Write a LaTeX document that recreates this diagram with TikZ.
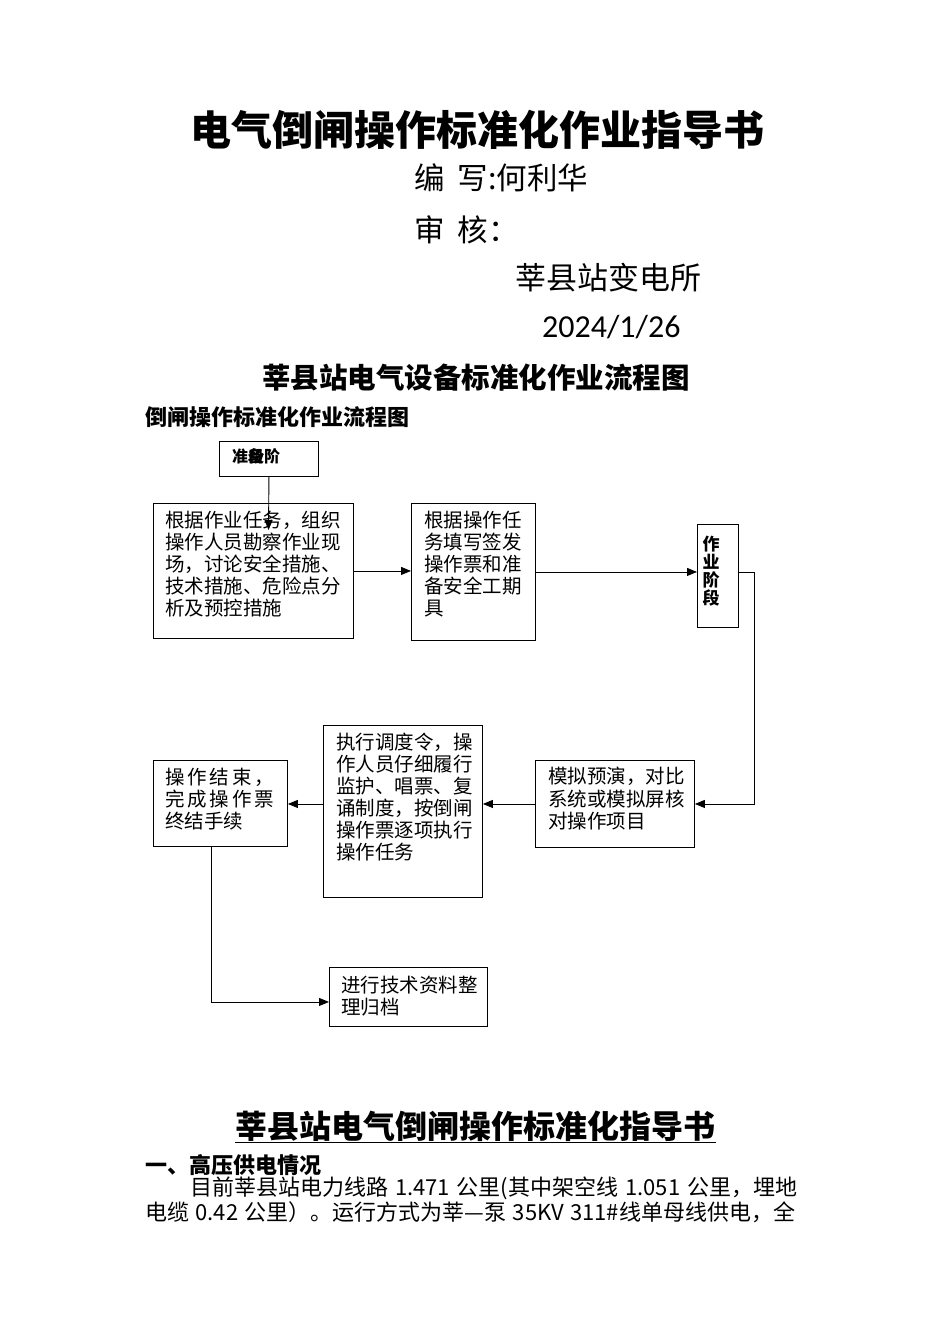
\documentclass[tikz,border=0pt]{standalone}
\usepackage{fontspec}
\setmainfont{Noto Sans CJK SC}
\newfontfamily\latinf{Carlito}
\usetikzlibrary{arrows.meta}
\begin{document}
\begin{tikzpicture}[x=1pt,y=1pt,
  box/.style={draw=black, line width=0.9pt, inner sep=0pt, anchor=north west},
  txt/.style={inner sep=0pt, anchor=north west, align=left, font=\fontsize{19.5}{22}\selectfont},
  head/.style={inner sep=0pt},
  conn/.style={draw=black, line width=0.9pt},
  arr/.style={conn, -{Triangle[length=10pt,width=8pt]}}]
\useasboundingbox[fill=white] (0,0) rectangle (950,-1344);

% ---- top texts
\node[head, font=\fontsize{41}{41}\selectfont\bfseries] (title) at (477,-130) {电气倒闸操作标准化作业指导书};
\node[head, anchor=west, font=\fontsize{30.5}{30.5}\selectfont] (author) at (414,-178) {编\hspace{13pt}写:何利华};
\node[head, anchor=west, font=\fontsize{30.5}{30.5}\selectfont] (review) at (414,-230) {审\hspace{13pt}核：};
\node[head, anchor=west, font=\fontsize{31}{31}\selectfont] (station) at (515,-278) {莘县站变电所};
\node[head, anchor=west, font=\fontsize{32}{32}\latinf] (date) at (542,-327) {2024/1/26};
\node[head, font=\fontsize{28.5}{28.5}\selectfont\bfseries] (fchead) at (476,-378) {莘县站电气设备标准化作业流程图};
\node[head, anchor=west, font=\fontsize{22}{22}\selectfont\bfseries] (fcsub) at (145,-417) {倒闸操作标准化作业流程图};

% ---- flowchart boxes
\node[box, minimum width=99pt, minimum height=35pt] (prep) at (219,-441) {};
\node[head, font=\fontsize{16}{16}\selectfont\bfseries] (preptxt) at (256,-456) {准\makebox[0pt][l]{备}段阶};

\node[box, minimum width=200pt, minimum height=135pt] (a) at (153,-503) {};
\node[txt] (atxt) at (165,-511) {根据作业任务，组织\\操作人员勘察作业现\\场，讨论安全措施、\\技术措施、危险点分\\析及预控措施};

\node[box, minimum width=124pt, minimum height=137pt] (b) at (411,-503) {};
\node[txt] (btxt) at (424,-511) {根据操作任\\务填写签发\\操作票和准\\备安全工期\\具};

\node[box, minimum width=41pt, minimum height=103pt] (work) at (697,-524) {};
\node[inner sep=0pt, anchor=north, align=center, font=\fontsize{17}{18}\selectfont\bfseries] (worktxt) at (711,-536) {作\\业\\阶\\段};

\node[box, minimum width=159pt, minimum height=87pt] (sim) at (535,-760) {};
\node[txt, font=\fontsize{19.5}{22.5}\selectfont] (simtxt) at (548,-767) {模拟预演，对比\\系统或模拟屏核\\对操作项目};

\node[box, minimum width=159pt, minimum height=172pt] (exec) at (323,-725) {};
\node[txt] (exectxt) at (336,-733) {执行调度令，操\\作人员仔细履行\\监护、唱票、复\\诵制度，按倒闸\\操作票逐项执行\\操作任务};

\node[box, minimum width=134pt, minimum height=86pt] (fin) at (153,-760) {};
\node[txt] (fintxt) at (165,-768) {\makebox[109pt][s]{操\hfill 作\hfill 结\hfill 束\hfill ，}\\\makebox[109pt][s]{完\hfill 成\hfill 操\hfill 作\hfill 票}\\终结手续};

\node[box, minimum width=158pt, minimum height=59pt] (arch) at (329,-967) {};
\node[txt] (archtxt) at (341,-976) {进行技术资料整\\理归档};

% ---- connectors
\coordinate (tipA) at (268.5,-530);
\draw[arr] (prep.south) -- (tipA);
\draw[arr] (a.east) -- (a.east -| b.west);
\draw[arr] (b.east) -- (b.east -| work.west);
\draw[arr] (work.east |- b.east) -- ++(16,0) |- (sim.east);
\draw[arr] (sim.west) -- (sim.west -| exec.east);
\draw[arr] (sim.west -| exec.west) -- (sim.west -| fin.east);
\draw[arr] ([xshift=-9pt]fin.south) |- ([yshift=-5pt]arch.west);

% ---- bottom text
\node[head, inner sep=0pt, font=\fontsize{32}{32}\selectfont\bfseries] (guide) at (475.5,-1126) {莘县站电气倒闸操作标准化指导书};
\draw[line width=1.6pt] ([yshift=-1pt]guide.south west) -- ([yshift=-1pt]guide.south east);
\node[head, anchor=west, font=\fontsize{22}{22}\selectfont\bfseries] (sec1) at (145,-1165) {一、高压供电情况};
\node[head, anchor=west, font=\fontsize{22}{22}\selectfont] (line1) at (190,-1188) {\makebox[607pt][s]{目前莘县站电力线路 1.471 公里(其中架空线 1.051 公里，埋地}};
\node[head, anchor=west, font=\fontsize{22}{22}\selectfont] (line2) at (145,-1212) {\makebox[650pt][s]{电缆 0.42 公里）。运行方式为莘—泵 35KV 311\#线单母线供电，全}};
\end{tikzpicture}
\end{document}
